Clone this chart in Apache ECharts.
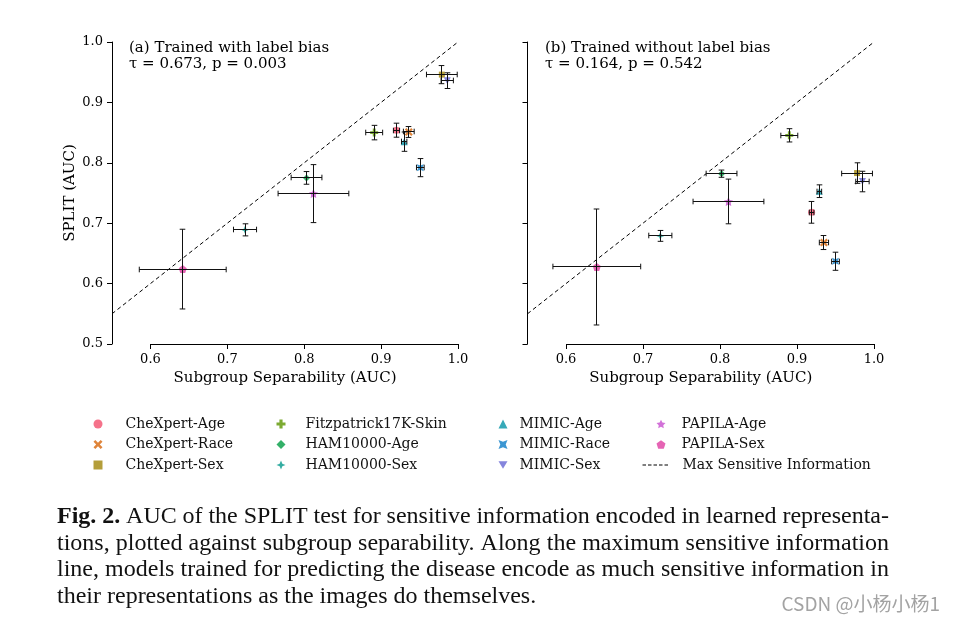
<!DOCTYPE html>
<html>
<head>
<meta charset="utf-8">
<script src="https://cdn.jsdelivr.net/npm/echarts@6/dist/echarts.min.js"></script>
<style>
html, body { margin: 0; padding: 0; background: #fff; }
#chart { width: 954px; height: 623px; }
</style>
</head>
<body>
<div id="chart"></div>
<script>
const names = ["CheXpert-Age", "CheXpert-Race", "CheXpert-Sex", "Fitzpatrick17K-Skin", "HAM10000-Age",
    "HAM10000-Sex", "MIMIC-Age", "MIMIC-Race", "MIMIC-Sex", "PAPILA-Age", "PAPILA-Sex"];

// (a) trained with label bias
const aX    = [0.920, 0.936, 0.979, 0.891, 0.803, 0.723, 0.930, 0.951, 0.986, 0.812, 0.642];
const aY    = [0.854, 0.851, 0.946, 0.850, 0.775, 0.689, 0.835, 0.792, 0.936, 0.749, 0.624];
const aXErr = [0.004, 0.007, 0.020, 0.011, 0.020, 0.015, 0.0035, 0.005, 0.008, 0.046, 0.0565];
const aYErr = [0.0116, 0.009, 0.015, 0.012, 0.0105, 0.010, 0.016, 0.015, 0.013, 0.048, 0.066];

// (b) trained without label bias
const bX    = [0.919, 0.935, 0.978, 0.890, 0.802, 0.7225, 0.929, 0.950, 0.985, 0.811, 0.640];
const bY    = [0.718, 0.668, 0.783, 0.8455, 0.782, 0.679, 0.753, 0.637, 0.769, 0.736, 0.6275];
const bXErr = [0.003, 0.006, 0.020, 0.011, 0.020, 0.015, 0.003, 0.005, 0.0087, 0.046, 0.057];
const bYErr = [0.018, 0.0116, 0.017, 0.011, 0.006, 0.009, 0.0105, 0.015, 0.017, 0.037, 0.096];

const xTicks = [0.6, 0.7, 0.8, 0.9, 1.0];
const yTicks = [0.5, 0.6, 0.7, 0.8, 0.9, 1.0];
const diag = [[0.55, 0.55], [1.0, 1.0]];
const diagName = "Max Sensitive Information";

const panelTitles = ["(a) Trained with label bias", "(b) Trained without label bias"];
const panelStats = ["τ = 0.673, p = 0.003", "τ = 0.164, p = 0.542"];

const captionLines = [
    "Fig. 2. AUC of the SPLIT test for sensitive information encoded in learned representa-",
    "tions, plotted against subgroup separability. Along the maximum sensitive information",
    "line, models trained for predicting the disease encode as much sensitive information in",
    "their representations as the images do themselves."
];

const colors = ["#f5728a", "#df843a", "#b49e3a", "#7caa32", "#33b068", "#35ada2", "#36a9b8",
    "#3b96d2", "#8585dc", "#d271d8", "#e564b4"];
const symbols = [
    "circle",
    "path://M-1,-0.6L-0.6,-1L0,-0.4L0.6,-1L1,-0.6L0.4,0L1,0.6L0.6,1L0,0.4L-0.6,1L-1,0.6L-0.4,0Z",
    "rect",
    "path://M-0.35,-1L0.35,-1L0.35,-0.35L1,-0.35L1,0.35L0.35,0.35L0.35,1L-0.35,1L-0.35,0.35L-1,0.35L-1,-0.35L-0.35,-0.35Z",
    "diamond",
    "path://M0,-1L0.3,-0.3L1,0L0.3,0.3L0,1L-0.3,0.3L-1,0L-0.3,-0.3Z",
    "triangle",
    "path://M-1,-1L0,-0.6L1,-1L0.6,0L1,1L0,0.6L-1,1L-0.6,0Z",
    "path://M-1,-0.8L1,-0.8L0,0.9Z",
    "path://M0,-1L0.294,-0.405L0.951,-0.309L0.476,0.155L0.588,0.809L0,0.5L-0.588,0.809L-0.476,0.155L-0.951,-0.309L-0.294,-0.405Z",
    "path://M0,-1L0.951,-0.309L0.588,0.809L-0.588,0.809L-0.951,-0.309Z"
];
const symSizes = [7, 8, 6, 8, 7, 8, 7, 7, 7, 9, 8];

const serif = "DejaVu Serif";
const black = "#000";

function renderErr(params, api) {
    const x = api.value(0), y = api.value(1), ex = api.value(2), ey = api.value(3);
    const snap = v => Math.round(v - 0.5) + 0.5;
    const c = api.coord([x, y]).map(snap);
    const l = api.coord([x - ex, y])[0], r = api.coord([x + ex, y])[0];
    const t = api.coord([x, y + ey])[1], b = api.coord([x, y - ey])[1];
    const cap = 2.8;
    const style = { stroke: "#111", lineWidth: 1 };
    const seg = (x1, y1, x2, y2) => ({ type: "line", shape: { x1, y1, x2, y2 }, style });
    return {
        type: "group",
        children: [
            seg(l, c[1], r, c[1]),
            seg(l, c[1] - cap, l, c[1] + cap),
            seg(r, c[1] - cap, r, c[1] + cap),
            seg(c[0], t, c[0], b),
            seg(c[0] - cap, t, c[0] + cap, t),
            seg(c[0] - cap, b, c[0] + cap, b)
        ]
    };
}

function panelSeries(p, xs, ys, xe, ye) {
    const out = [{
        name: diagName,
        type: "line",
        xAxisIndex: p,
        yAxisIndex: p,
        data: diag,
        symbol: "none",
        showSymbol: false,
        silent: true,
        z: 1,
        lineStyle: { color: black, width: 1, type: [4, 3] },
        itemStyle: { color: black },
        markLine: {
            silent: true,
            symbol: "none",
            label: { show: false },
            lineStyle: { color: black, width: 1, type: "solid" },
            data: [[{ coord: [xTicks[0], yTicks[0]] }, { coord: [xTicks[xTicks.length - 1], yTicks[0]] }]]
        }
    }];
    names.forEach((n, i) => {
        out.push({
            name: n,
            type: "scatter",
            xAxisIndex: p,
            yAxisIndex: p,
            data: [[xs[i], ys[i]]],
            symbol: symbols[i],
            symbolSize: symSizes[i],
            itemStyle: { color: colors[i], opacity: 1 },
            z: 2
        });
    });
    out.push({
        type: "custom",
        xAxisIndex: p,
        yAxisIndex: p,
        renderItem: renderErr,
        encode: { x: 0, y: 1 },
        data: xs.map((x, i) => [x, ys[i], xe[i], ye[i]]),
        silent: true,
        z: 3
    });
    return out;
}

function xAxisFor(p) {
    return {
        type: "value",
        gridIndex: p,
        min: 0.55,
        max: 1.0,
        name: "Subgroup Separability (AUC)",
        nameLocation: "middle",
        nameGap: 27,
        nameTextStyle: { fontFamily: serif, fontSize: 15, color: black },
        axisLine: { show: false },
        axisTick: { show: true, length: 5, customValues: xTicks, lineStyle: { color: black } },
        axisLabel: {
            customValues: xTicks, margin: 9, formatter: v => v.toFixed(1),
            fontFamily: serif, fontSize: 13, color: black
        },
        splitLine: { show: false }
    };
}

function yAxisFor(p) {
    return {
        type: "value",
        gridIndex: p,
        min: 0.5,
        max: 1.0,
        interval: 0.1,
        name: p === 0 ? "SPLIT (AUC)" : "",
        nameLocation: "middle",
        nameGap: 34,
        nameRotate: 90,
        nameTextStyle: { fontFamily: serif, fontSize: 15, color: black },
        axisLine: { show: true, lineStyle: { color: black, width: 1 } },
        axisTick: { show: true, length: 5, lineStyle: { color: black } },
        axisLabel: {
            show: p === 0, margin: 9, formatter: v => v.toFixed(1),
            fontFamily: serif, fontSize: 13, color: black, padding: [3, 0, 0, 0]
        },
        splitLine: { show: false }
    };
}

function legendCol(data, left, top, pad, w) {
    const leg = {
        data: data,
        orient: "vertical",
        left: left,
        top: top,
        itemWidth: w || 9,
        itemHeight: 9,
        itemGap: 4.5,
        selectedMode: false,
        padding: 0,
        textStyle: { fontFamily: serif, fontSize: 14, color: "#111", lineHeight: 16, padding: [0, 0, 0, pad] }
    };
    if (w) {
        leg.itemStyle = { opacity: 0 };
        leg.lineStyle = { color: black, width: 1, type: [3.5, 2] };
    }
    return leg;
}

function captionGraphics() {
    const ctx = document.createElement("canvas").getContext("2d");
    const size = 24, fam = "Liberation Serif", left = 57, right = 889;
    const ys = [517, 544, 570, 597];
    const out = [];
    captionLines.forEach((line, li) => {
        const words = line.split(" ");
        const bold = words.map((w, wi) => li === 0 && wi < 2);
        const widths = words.map((w, wi) => {
            ctx.font = (bold[wi] ? "bold " : "") + size + 'px "' + fam + '"';
            return ctx.measureText(w).width;
        });
        ctx.font = size + 'px "' + fam + '"';
        const total = widths.reduce((a, b) => a + b, 0);
        const space = li < 3 ? (right - left - total) / (words.length - 1) : ctx.measureText(" ").width;
        let x = left;
        words.forEach((w, wi) => {
            out.push({
                type: "text", x: x, y: ys[li], silent: true,
                style: {
                    text: w, fontFamily: fam, fontSize: size, fontWeight: bold[wi] ? "bold" : "normal",
                    fill: "#111", verticalAlign: "middle"
                }
            });
            x += widths[wi] + space;
        });
    });
    return out;
}

const chart = echarts.init(document.getElementById("chart"));
chart.setOption({
    backgroundColor: "#fff",
    animation: false,
    title: [0, 1].map(p => ({
        text: panelTitles[p] + "\n" + panelStats[p],
        left: p === 0 ? 129 : 545,
        top: 40,
        padding: 0,
        textStyle: { fontFamily: serif, fontSize: 15, fontWeight: "normal", color: black, lineHeight: 16 }
    })),
    grid: [
        { left: 112, top: 42, width: 346, height: 302 },
        { left: 527.5, top: 42, width: 346.5, height: 302 }
    ],
    xAxis: [xAxisFor(0), xAxisFor(1)],
    yAxis: [yAxisFor(0), yAxisFor(1)],
    legend: [
        legendCol(names.slice(0, 3), 93.5, 416, 18),
        legendCol(names.slice(3, 6), 276.5, 416, 15),
        legendCol(names.slice(6, 9), 498.5, 416, 7),
        legendCol(names.slice(9, 11), 656.5, 416, 11),
        legendCol([diagName], 642, 457, 9, 26)
    ],
    series: panelSeries(0, aX, aY, aXErr, aYErr).concat(panelSeries(1, bX, bY, bXErr, bYErr)),
    graphic: captionGraphics().concat([{
        type: "text", right: 14, top: 594, silent: true,
        style: { text: "CSDN @小杨小杨1", fontFamily: "Noto Sans CJK SC", fontSize: 19, fill: "#a3a3a3" }
    }])
});
</script>
</body>
</html>
